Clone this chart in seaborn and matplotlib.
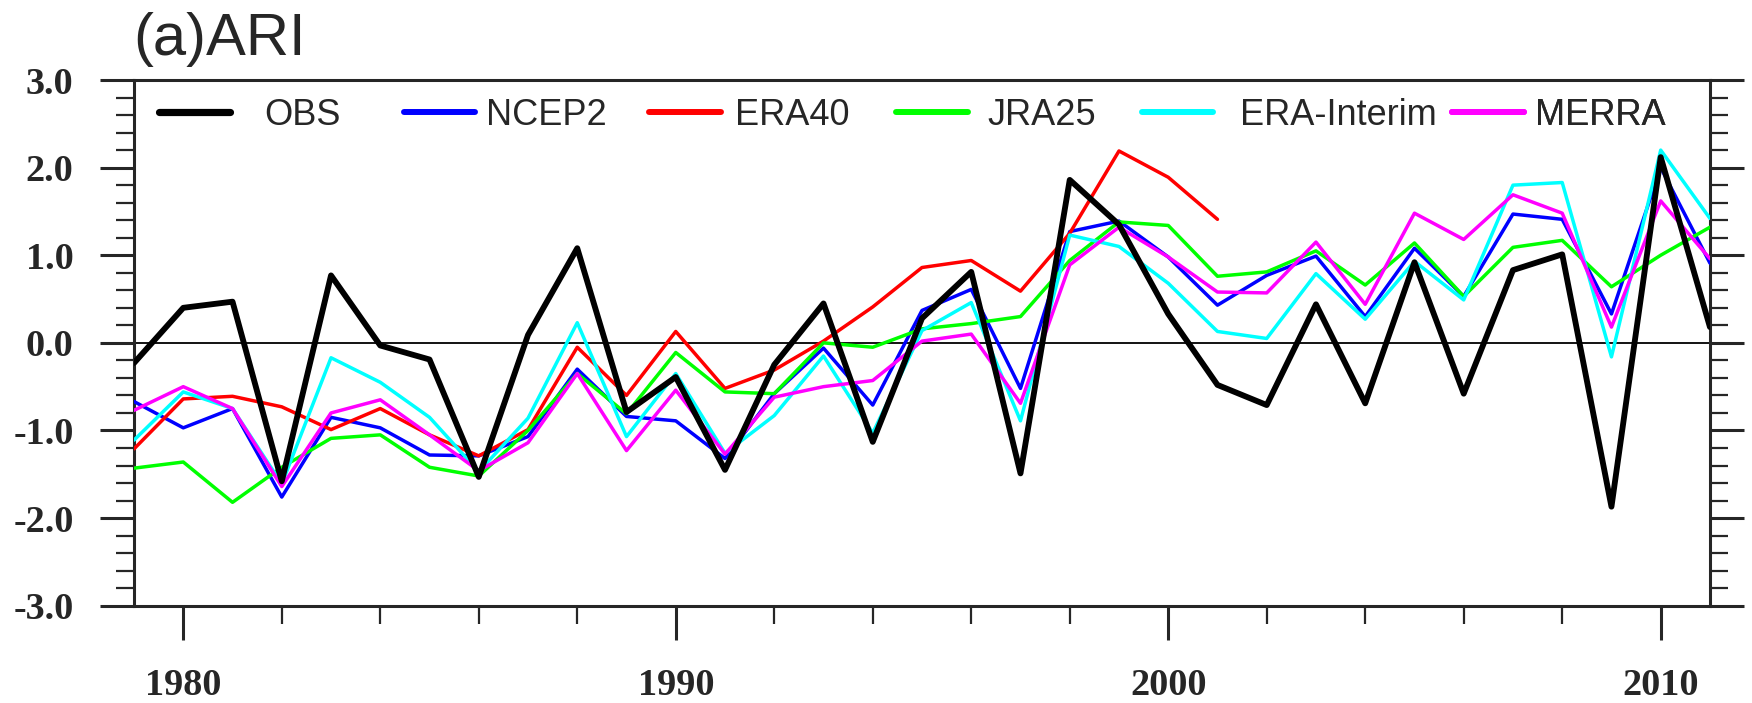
import numpy as np
import pandas as pd
import matplotlib
matplotlib.use("Agg")
import matplotlib.pyplot as plt
from matplotlib.ticker import MultipleLocator
import seaborn as sns

# data
years = list(range(1979, 2012))

obs = [-0.23, 0.40, 0.47, -1.58, 0.77, -0.03, -0.19, -1.53, 0.09, 1.08,
       -0.79, -0.39, -1.45, -0.25, 0.45, -1.13, 0.28, 0.81, -1.49, 1.86,
       1.35, 0.33, -0.48, -0.71, 0.44, -0.69, 0.92, -0.58, 0.83, 1.01,
       -1.87, 2.12, 0.18]
ncep2 = [-0.67, -0.97, -0.75, -1.76, -0.85, -0.97, -1.28, -1.29, -1.07, -0.30,
         -0.84, -0.89, -1.32, -0.58, -0.06, -0.71, 0.37, 0.61, -0.52, 1.27,
         1.39, 0.98, 0.43, 0.77, 0.99, 0.30, 1.08, 0.53, 1.47, 1.41,
         0.33, 2.00, 0.91]
era40 = [-1.21, -0.64, -0.61, -0.73, -0.99, -0.75, -1.05, -1.29, -0.99, -0.05,
         -0.60, 0.13, -0.52, -0.31, 0.02, 0.41, 0.86, 0.94, 0.59, 1.25,
         2.19, 1.89, 1.41]
jra25 = [-1.43, -1.36, -1.82, -1.42, -1.09, -1.05, -1.42, -1.52, -1.00, -0.35,
         -0.81, -0.11, -0.56, -0.58, 0.00, -0.05, 0.16, 0.22, 0.30, 0.94,
         1.38, 1.34, 0.76, 0.81, 1.05, 0.66, 1.14, 0.53, 1.09, 1.17,
         0.64, 1.00, 1.32]
erai = [-1.11, -0.56, -0.75, -1.61, -0.17, -0.45, -0.85, -1.47, -0.86, 0.23,
        -1.07, -0.35, -1.26, -0.83, -0.15, -1.03, 0.14, 0.46, -0.89, 1.23,
        1.10, 0.68, 0.13, 0.05, 0.79, 0.27, 0.93, 0.49, 1.80, 1.83,
        -0.16, 2.20, 1.42]
merra = [-0.77, -0.50, -0.75, -1.64, -0.80, -0.65, -1.05, -1.46, -1.14, -0.35,
         -1.23, -0.54, -1.27, -0.62, -0.50, -0.43, 0.02, 0.10, -0.69, 0.89,
         1.32, 0.98, 0.58, 0.57, 1.15, 0.44, 1.48, 1.18, 1.69, 1.48,
         0.18, 1.62, 0.96]

sns.set_style("ticks")
plt.rcParams["font.family"] = ["Liberation Sans", "DejaVu Sans"]

fig = plt.figure(figsize=(17.52, 7.03), dpi=100)
ax = fig.add_axes([0.0765, 0.1384, 0.8995, 0.7478])

ax.axhline(0, color="black", lw=1.3, zorder=1)

sns.lineplot(x=years, y=obs, ax=ax, color="black", lw=4.2, label="OBS", zorder=10)
sns.lineplot(x=years, y=ncep2, ax=ax, color="#0000ff", lw=2.5, label="NCEP2", zorder=3)
sns.lineplot(x=years[:len(era40)], y=era40, ax=ax, color="#ff0000", lw=2.5, label="ERA40", zorder=3)
sns.lineplot(x=years, y=jra25, ax=ax, color="#00ff00", lw=2.5, label="JRA25", zorder=3)
sns.lineplot(x=years, y=erai, ax=ax, color="#00ffff", lw=2.5, label="ERA-Interim", zorder=4)
sns.lineplot(x=years, y=merra, ax=ax, color="#ff00ff", lw=2.5, label="MERRA", zorder=5)

ax.set_xlim(1979, 2011)
ax.set_ylim(-3, 3)
ax.set_xlabel("")
ax.set_ylabel("")

ax.xaxis.set_major_locator(MultipleLocator(10))
ax.xaxis.set_minor_locator(MultipleLocator(2))
ax.yaxis.set_major_locator(MultipleLocator(1))
ax.yaxis.set_minor_locator(MultipleLocator(0.2))
ax.yaxis.set_major_formatter(matplotlib.ticker.FormatStrFormatter("%.1f"))

ax.tick_params(axis="y", which="both", direction="out", left=True, right=True, labelright=False)
ax.tick_params(axis="x", which="both", direction="out", bottom=True, top=False)
ax.tick_params(which="major", length=24.5, width=2.2)
ax.tick_params(which="minor", length=13, width=1.6)
ax.tick_params(axis="y", which="major", pad=19)
ax.tick_params(axis="x", which="major", pad=20)

for lab in ax.get_xticklabels() + ax.get_yticklabels():
    lab.set_fontfamily("Liberation Serif")
    lab.set_fontsize(27.5)
    lab.set_fontweight("bold")

for sp in ax.spines.values():
    sp.set_linewidth(2.2)
    sp.set_visible(True)

# one legend per entry, placed like the NCL legend items
handles, labels = ax.get_legend_handles_labels()
ax.get_legend().remove()
leg_x = [0.0157, 0.1710, 0.3270, 0.4836, 0.6396, 0.8366]
leg_pad = [0.93, 0.31, 0.40, 0.55, 0.74, 0.31]
for i, (h, l) in enumerate(zip(handles, labels)):
    leg = ax.legend([h], [l], loc="center left", bbox_to_anchor=(leg_x[i], 0.9334),
                    frameon=False, fontsize=26, handlelength=1.98, handletextpad=leg_pad[i],
                    borderpad=0, borderaxespad=0)
    leg.get_lines()[0].set_linewidth(5.2 if i == 0 else 4.3)
    ax.add_artist(leg)

fig.text(133 / 1752, 1 - 55 / 703, "(a)ARI", fontsize=43, va="baseline", ha="left")

fig.savefig("out.png", dpi=100)
